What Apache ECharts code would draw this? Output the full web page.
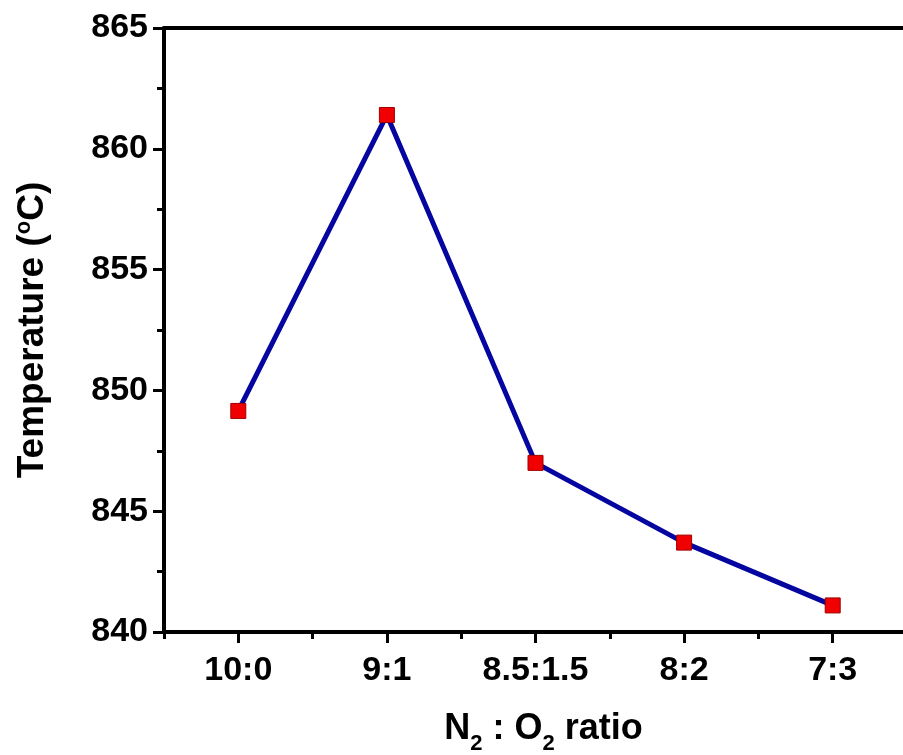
<!DOCTYPE html>
<html>
<head>
<meta charset="utf-8">
<script src="https://cdn.jsdelivr.net/npm/echarts@6/dist/echarts.min.js"></script>
<style>
  html, body { margin: 0; padding: 0; background: #fff; }
  #chart { width: 903px; height: 755px; }
</style>
</head>
<body>
<div id="chart"></div>
<script>
const ratios = ['10:0', '9:1', '8.5:1.5', '8:2', '7:3']
const temperatures = [849.15, 861.4, 847.0, 843.7, 841.1]
const yMin = 840
const yMax = 865
const yStep = 5

const font = '"Liberation Sans", Arial, sans-serif'
const axisColor = '#000'

const chart = echarts.init(document.getElementById('chart'))

chart.setOption({
  animation: false,
  backgroundColor: '#fff',
  grid: { left: 164, top: 28, bottom: 123, right: -4, outerBoundsMode: 'none', containLabel: false },
  xAxis: [
    {
      type: 'category',
      data: ratios,
      boundaryGap: true,
      axisLine: { lineStyle: { color: axisColor, width: 4 } },
      axisTick: { show: true, inside: false, length: 7, interval: 0, lineStyle: { color: axisColor, width: 3 } },
      axisLabel: { color: '#000', fontFamily: font, fontWeight: 'bold', fontSize: 34, margin: 22, interval: 0 },
      splitLine: { show: false },
      name: '{n|N}{s|2}{n| : O}{s|2}{n| ratio}',
      nameLocation: 'middle',
      nameGap: 71,
      nameTextStyle: {
        padding: [0, 0, 0, 16],
        rich: {
          n: { fontFamily: font, fontWeight: 'bold', fontSize: 36, color: '#000', lineHeight: 40 },
          s: { fontFamily: font, fontWeight: 'bold', fontSize: 22, color: '#000', padding: [30, 0, 0, 0] }
        }
      }
    },
    {
      type: 'category',
      data: ratios,
      position: 'bottom',
      boundaryGap: true,
      axisLine: { show: false },
      axisTick: { show: true, alignWithLabel: true, length: 11, interval: 0, lineStyle: { color: axisColor, width: 3 } },
      axisLabel: { show: false },
      splitLine: { show: false }
    },
    {
      type: 'category',
      data: ratios,
      position: 'top',
      axisLine: { lineStyle: { color: axisColor, width: 4 } },
      axisTick: { show: false },
      axisLabel: { show: false },
      splitLine: { show: false }
    }
  ],
  yAxis: {
    type: 'value',
    min: yMin,
    max: yMax,
    interval: yStep,
    axisLine: { show: true, lineStyle: { color: axisColor, width: 4 } },
    axisTick: { show: true, length: 11, lineStyle: { color: axisColor, width: 3 } },
    minorTick: { show: true, splitNumber: 2, length: 7, lineStyle: { color: axisColor, width: 3 } },
    axisLabel: { color: '#000', fontFamily: font, fontWeight: 'bold', fontSize: 34, margin: 16 },
    splitLine: { show: false },
    name: '{n|Temperature (}{sup|o}{n|C)}',
    nameLocation: 'middle',
    nameGap: 111,
    nameTextStyle: {
      rich: {
        n: { fontFamily: font, fontWeight: 'bold', fontSize: 37, color: '#000', lineHeight: 40 },
        sup: { fontFamily: font, fontWeight: 'bold', fontSize: 22, color: '#000', padding: [0, 0, 18, 0] }
      }
    }
  },
  series: [
    {
      type: 'line',
      xAxisIndex: 0,
      data: temperatures,
      symbol: 'rect',
      symbolSize: 15,
      showAllSymbol: true,
      lineStyle: { color: '#0505a0', width: 5 },
      itemStyle: { color: '#f00000', borderColor: '#a00000', borderWidth: 1 }
    }
  ]
})
</script>
</body>
</html>
